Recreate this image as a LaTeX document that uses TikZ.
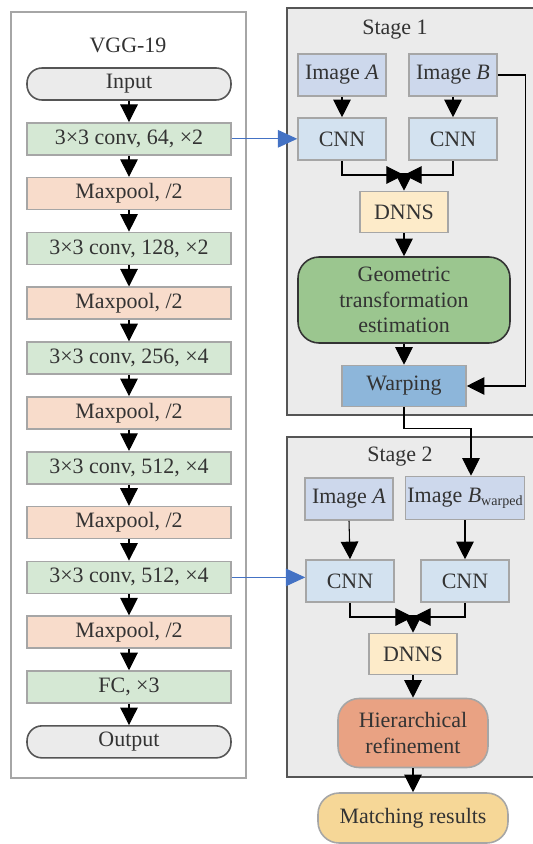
\documentclass[tikz,border=0pt]{standalone}
\usepackage{fontspec}
\setmainfont{Liberation Serif}
\usepackage{xcolor}
\usetikzlibrary{arrows.meta, positioning}

\definecolor{txtgray}{HTML}{333333}
\definecolor{edgegray}{HTML}{A6A6A6}
\definecolor{framegray}{HTML}{555555}
\definecolor{panelfill}{HTML}{EBEBEB}
\definecolor{convfill}{HTML}{D5E8D4}
\definecolor{poolfill}{HTML}{F8DCCB}
\definecolor{imgfill}{HTML}{CDD8EC}
\definecolor{cnnfill}{HTML}{D3E2F0}
\definecolor{dnnsfill}{HTML}{FDEBC9}
\definecolor{geofill}{HTML}{9BC68F}
\definecolor{warpfill}{HTML}{8DB6DA}
\definecolor{hierfill}{HTML}{E9A283}
\definecolor{matchfill}{HTML}{F6D797}
\definecolor{linkblue}{HTML}{4472C4}

\tikzset{
  vggframe/.style = {
    rectangle, draw=edgegray, fill=white, line width=0.8pt
  },
  stageframe/.style = {
    rectangle, draw=framegray, fill=panelfill, line width=0.8pt
  },
  layer/.style = {
    rectangle, draw=edgegray, line width=0.9pt,
    minimum width=4.08cm, minimum height=0.64cm,
    text centered, inner sep=1pt
  },
  terminal/.style = {
    layer, draw=framegray, fill=panelfill, rounded corners=8.5pt
  },
  unit/.style = {
    rectangle, draw=edgegray, line width=0.9pt,
    minimum width=1.76cm, minimum height=0.84cm,
    text centered, inner sep=1pt
  }
}

\begin{document}
\begin{tikzpicture}[
  x=0.02cm, y=-0.02cm,
  node distance=0.425cm,
  every node/.style={font=\fontsize{12.5}{14.5}\selectfont, text=txtgray},
  arr/.style={-{Triangle[width=10pt,length=10pt]}, line width=0.6pt, black},
  barr/.style={-{Triangle[width=10pt,length=11pt]}, line width=0.6pt, linkblue}
]
\useasboundingbox (0,0) rectangle (532,844);

%% ── Frames ───────────────────────────────────────────
\node[vggframe, minimum width=4.7cm, minimum height=15.32cm]
  (vgg) at (128.5,395) {};
\node[stageframe, minimum width=5.0cm, minimum height=8.14cm]
  (st1) at (412,211.5) {};
\node[stageframe, minimum width=5.0cm, minimum height=6.8cm]
  (st2) at (412,607) {};

\node (vggtitle) at (128,45) {VGG-19};
\node (st1title) at (395,30) {Stage 1};
\node (st2title) at (400,457) {Stage 2};

%% ── VGG-19 column ────────────────────────────────────
\node[terminal] (input) at (129,84) {Input};
\node[layer, fill=convfill, below=of input] (c1) {3×3 conv, 64, ×2};
\node[layer, fill=poolfill, below=of c1] (p1) {Maxpool, /2};
\node[layer, fill=convfill, below=of p1] (c2) {3×3 conv, 128, ×2};
\node[layer, fill=poolfill, below=of c2] (p2) {Maxpool, /2};
\node[layer, fill=convfill, below=of p2] (c3) {3×3 conv, 256, ×4};
\node[layer, fill=poolfill, below=of c3] (p3) {Maxpool, /2};
\node[layer, fill=convfill, below=of p3] (c4) {3×3 conv, 512, ×4};
\node[layer, fill=poolfill, below=of c4] (p4) {Maxpool, /2};
\node[layer, fill=convfill, below=of p4] (c5) {3×3 conv, 512, ×4};
\node[layer, fill=poolfill, below=of c5] (p5) {Maxpool, /2};
\node[layer, fill=convfill, below=of p5] (fc) {FC, ×3};
\node[terminal, below=of fc] (output) {Output};

\foreach \a/\b in {input/c1, c1/p1, p1/c2, c2/p2, p2/c3, c3/p3,
                   p3/c4, c4/p4, p4/c5, c5/p5, p5/fc, fc/output}
  \draw[arr] (\a.south) -- (\b.north);

%% ── Stage 1 ──────────────────────────────────────────
\node[unit, fill=imgfill] (imgA1) at (342,75) {Image \textit{A}};
\node[unit, fill=imgfill] (imgB1) at (453,75) {Image \textit{B}};
\node[unit, fill=cnnfill] (cnnA1) at (342,139) {CNN};
\node[unit, fill=cnnfill] (cnnB1) at (453,139) {CNN};
\coordinate (join1) at (404,175);
\node[unit, fill=dnnsfill, minimum height=0.82cm]
  (dnns1) at (404,212) {DNNS};
\node[unit, fill=geofill, draw=txtgray, rounded corners=12pt,
      minimum width=4.24cm, minimum height=1.72cm, align=center]
  (geo) at (404,300) {Geometric\\transformation\\estimation};
\node[unit, fill=warpfill, minimum width=2.48cm, minimum height=0.82cm]
  (warp) at (404,386) {Warping};

%% ── Stage 2 ──────────────────────────────────────────
\node[unit, fill=imgfill] (imgA2) at (349,499) {Image \textit{A}};
\node[unit, fill=imgfill, minimum width=2.2cm, minimum height=0.86cm]
  (imgB2) at (465,498)
  {Image \textit{B}{\fontsize{8}{8}\selectfont\raisebox{-0.45ex}{warped}}};
\node[unit, fill=cnnfill] (cnnA2) at (350,581) {CNN};
\node[unit, fill=cnnfill] (cnnB2) at (465,581) {CNN};
\coordinate (join2) at (413,617);
\node[unit, fill=dnnsfill, minimum height=0.82cm]
  (dnns2) at (413,654) {DNNS};
\node[unit, fill=hierfill, rounded corners=12pt, align=center,
      minimum width=3.0cm, minimum height=1.38cm]
  (hier) at (413,733) {Hierarchical\\refinement};
\node[unit, fill=matchfill, rounded corners=12pt,
      minimum width=3.8cm, minimum height=1.0cm]
  (match) at (413,818) {Matching results};

%% ── Arrows ───────────────────────────────────────────
\draw[barr] (c1.east) -- (c1.east -| cnnA1.west);
\draw[barr] (c5.east) -- (c5.east -| cnnA2.west);

\draw[arr] (imgA1.south) -- (cnnA1.north);
\draw[arr] (imgB1.south) -- (cnnB1.north);
\draw[arr] (cnnA1.south) |- (join1);
\draw[arr] (cnnB1.south) |- (join1);
\draw[arr] (join1) -- (dnns1.north);
\draw[arr] (dnns1.south) -- (geo.north);
\draw[arr] (geo.south) -- (warp.north);
\draw[arr] (imgB1.east) -- ++(28,0) |- (warp.east);
\draw[arr] (warp.south) -- ++(0,21) -| ([xshift=0.12cm]imgB2.north);

\draw[arr] (imgA2.south) -- (cnnA2.north);
\draw[arr] (imgB2.south) -- (cnnB2.north);
\draw[arr] (cnnA2.south) |- (join2);
\draw[arr] (cnnB2.south) |- (join2);
\draw[arr] (join2) -- (dnns2.north);
\draw[arr] (dnns2.south) -- (hier.north);
\draw[arr] (hier.south) -- (match.north);

\end{tikzpicture}
\end{document}
